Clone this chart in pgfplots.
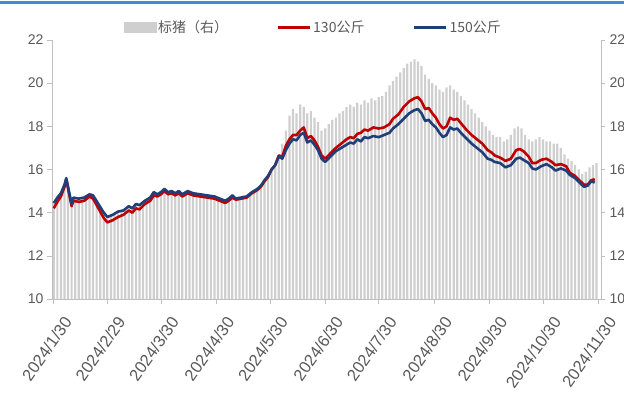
\documentclass[border=0pt]{standalone}
\usepackage{pgfplots}
\pgfplotsset{compat=1.18}
\usepackage{pgfplotstable}
\usepackage{fontspec}
\setmainfont{Liberation Sans}
\newfontfamily\cjk{Noto Sans CJK SC}
\definecolor{bargray}{HTML}{CFCFCF}
\definecolor{axisgray}{HTML}{BFBFBF}
\definecolor{labelgray}{HTML}{595959}
\definecolor{redline}{HTML}{C00000}
\definecolor{blueline}{HTML}{203F7A}
\definecolor{topblue}{HTML}{3D8BD4}

\pgfplotstableread{
day val
0 14.5
2 14.75
4 14.95
6 15.35
8 15.3
10 14.5
12 14.7
14 14.7
16 14.75
18 14.8
20 14.9
22 14.85
24 14.6
26 14.3
28 14.05
30 13.85
32 13.95
34 14.0
36 14.1
38 14.15
40 14.2
42 14.35
44 14.25
46 14.45
48 14.4
50 14.55
52 14.65
54 14.75
56 15.0
58 14.9
60 15.0
62 15.15
64 15.0
66 15.05
68 14.95
70 15.05
72 14.9
74 15.0
76 15.0
78 14.95
80 14.9
82 14.9
84 14.85
86 14.85
88 14.8
90 14.8
92 14.7
94 14.65
96 14.6
98 14.7
100 14.85
102 14.7
104 14.75
106 14.8
108 14.8
110 14.95
112 15.05
114 15.15
116 15.3
118 15.55
120 15.8
122 16.1
124 16.3
126 16.7
128 17.2
130 17.8
132 18.5
134 18.8
136 18.6
138 19.0
140 18.9
142 18.6
144 18.7
146 18.4
148 18.2
150 17.8
152 17.9
154 18.1
156 18.3
158 18.4
160 18.6
162 18.7
164 18.9
166 19.0
168 18.9
170 19.1
172 19.0
174 19.2
176 19.1
178 19.3
180 19.2
182 19.35
184 19.4
186 19.6
188 19.9
190 20.1
192 20.3
194 20.5
196 20.7
198 20.9
200 21.0
202 21.1
204 21.0
206 20.8
208 20.4
210 20.2
212 20.0
214 19.9
216 19.7
218 19.6
220 19.8
222 19.9
224 19.7
226 19.6
228 19.4
230 19.2
232 19.0
234 18.8
236 18.6
238 18.4
240 18.2
242 18.0
244 17.8
246 17.6
248 17.5
250 17.5
252 17.3
254 17.4
256 17.6
258 17.9
260 18.0
262 17.9
264 17.6
266 17.4
268 17.3
270 17.4
272 17.5
274 17.4
276 17.3
278 17.3
280 17.2
282 17.2
284 17.0
286 16.7
288 16.5
290 16.4
292 16.2
294 16.0
296 15.8
298 15.9
300 16.1
302 16.2
304 16.3
}\bars

\pgfplotstableread{
day blue red
0 14.45 14.2
2 14.7 14.5
4 14.9 14.75
6 15.3 15.2
7 15.6 15.55
8 15.2 15.1
10 14.4 14.3
11 14.7 14.55
14 14.65 14.5
17 14.7 14.55
20 14.85 14.75
22 14.8 14.65
25 14.4 14.2
28 14.0 13.75
30 13.8 13.55
33 13.9 13.65
36 14.05 13.8
39 14.1 13.9
42 14.3 14.1
44 14.2 14.0
46 14.4 14.2
48 14.35 14.15
51 14.55 14.4
54 14.7 14.55
56 14.95 14.8
58 14.85 14.75
60 14.95 14.85
62 15.1 15.0
64 14.95 14.85
66 15.0 14.9
68 14.9 14.8
70 15.0 14.9
72 14.85 14.75
75 15.0 14.9
78 14.9 14.8
82 14.85 14.75
86 14.8 14.7
90 14.75 14.65
93 14.65 14.55
96 14.55 14.45
98 14.65 14.55
100 14.8 14.7
102 14.65 14.6
105 14.7 14.65
108 14.75 14.7
111 14.95 14.9
114 15.1 15.05
116 15.25 15.2
118 15.5 15.45
120 15.7 15.65
122 16.0 16.0
124 16.2 16.2
126 16.6 16.65
128 16.5 16.6
130 16.9 17.1
132 17.2 17.4
134 17.4 17.6
136 17.35 17.6
138 17.6 17.8
140 17.7 17.95
142 17.25 17.45
144 17.35 17.55
146 17.15 17.35
148 16.9 17.05
150 16.5 16.65
152 16.35 16.5
155 16.6 16.75
158 16.85 17.0
161 17.0 17.2
164 17.15 17.4
166 17.25 17.5
168 17.2 17.45
170 17.4 17.65
172 17.3 17.7
174 17.5 17.85
176 17.45 17.8
179 17.55 17.95
182 17.5 17.9
185 17.6 17.95
188 17.7 18.1
190 17.9 18.35
193 18.1 18.55
196 18.35 18.9
199 18.6 19.15
202 18.75 19.3
204 18.8 19.35
206 18.6 19.15
208 18.25 18.8
210 18.3 18.85
212 18.1 18.6
214 17.95 18.4
216 17.7 18.1
218 17.5 17.9
220 17.6 18.0
222 17.95 18.4
224 17.85 18.3
226 17.9 18.35
228 17.7 18.15
231 17.45 17.85
234 17.2 17.6
237 17.0 17.4
240 16.8 17.2
243 16.5 16.9
245 16.45 16.8
247 16.35 16.65
250 16.3 16.55
253 16.1 16.4
256 16.2 16.5
259 16.5 16.9
261 16.55 16.95
263 16.45 16.85
266 16.3 16.6
268 16.05 16.3
270 16.0 16.3
273 16.15 16.45
276 16.25 16.5
279 16.1 16.35
281 15.95 16.2
284 16.05 16.25
287 15.95 16.15
289 15.75 15.85
292 15.6 15.7
295 15.35 15.45
297 15.2 15.3
299 15.25 15.3
301 15.45 15.5
303 15.4 15.55
}\lines

\pgfplotsset{
  common/.style={
    at={(0,0)}, anchor=south west, scale only axis,
    width=549pt, height=259pt,
    xmin=-1, xmax=306.5, ymin=10, ymax=22,
    ytick={10,12,...,22},
    tick align=outside, major tick length=4pt,
    tick style={color=axisgray, line width=0.6pt},
    axis line style={color=axisgray, line width=0.8pt},
    ticklabel style={text=labelgray, font=\fontsize{14}{14}\selectfont},
    /pgf/number format/assume math mode=true,
  }
}

\begin{document}
\begin{tikzpicture}
\path[use as bounding box] (-52pt,-108pt) rectangle (572pt,299pt);
\draw[topblue, line width=2.5pt] (-52pt,296.5pt) -- (572pt,296.5pt);
\begin{axis}[common,
  axis y line*=right, axis x line=none,
  yticklabel style={xshift=1pt},
]
\addplot[ybar, bar width=2.2pt, fill=bargray, draw=none] table[x=day, y=val] {\bars};
\end{axis}
\begin{axis}[common,
  axis y line*=left, axis x line*=bottom,
  xtick={0,30,60,91,121,152,182,213,244,274,305},
  xticklabels={2024/1/30,2024/2/29,2024/3/30,2024/4/30,2024/5/30,2024/6/30,2024/7/30,2024/8/30,2024/9/30,2024/10/30,2024/11/30},
  xticklabel style={xshift=9pt, yshift=-11pt, rotate=55, anchor=north east, inner sep=0pt, font=\fontsize{16.5}{16.5}\selectfont},
  major tick length=5pt,
  legend style={at={(0.476,1)}, anchor=south, yshift=2pt, draw=none, fill=none,
    legend columns=3, font=\cjk\fontsize{14}{14}\selectfont, text=labelgray,
    /tikz/every even column/.append style={column sep=46pt}},
]
\addlegendimage{legend image code/.code={\fill[bargray] (0pt,-5pt) rectangle (32pt,5pt);}}
\addlegendentry{标猪（右）}
\addplot[redline, line width=2.6pt, line join=round, legend image code/.code={\draw[redline, line width=3pt] (0pt,0pt) -- (32pt,0pt);}] table[x=day, y=red] {\lines};
\addlegendentry{130公斤}
\addplot[blueline, line width=2.6pt, line join=round, legend image code/.code={\draw[blueline, line width=3pt] (0pt,0pt) -- (32pt,0pt);}] table[x=day, y=blue] {\lines};
\addlegendentry{150公斤}
\end{axis}
\end{tikzpicture}
\end{document}
